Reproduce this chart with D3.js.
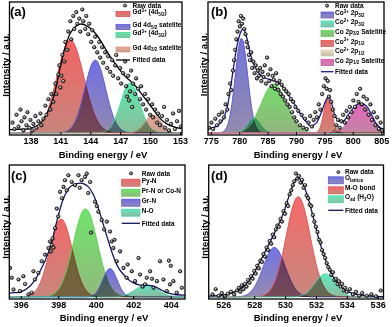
<!DOCTYPE html>
<html>
<head>
<meta charset="utf-8">
<script src="https://cdn.jsdelivr.net/npm/d3@7"></script>
<style>
  body { margin: 0; background: #fff; }
  svg text { font-family: "Liberation Sans", Arial, sans-serif; font-weight: bold; fill: #000; }
</style>
</head>
<body>
<svg id="fig" width="392" height="327"></svg>
<script>
// ---------- (a) Gd 4d ----------
const domainA = [135.9, 153.2];
const ticksA = [138, 141, 144, 147, 150, 153];
const namesA = ["Gd^{3+} (4d_{5/2})", "Gd 4d_{5/2} satelite", "Gd^{3+} (4d_{3/2})", "Gd 4d_{3/2} satelite"];
const centersA = [142.0, 144.5, 148.0, 150.3];
const heightsA = [71.5, 56, 38.5, 14];
const sigmasA = [1.35, 1.05, 0.95, 0.8];
const fitA = [[135.9,2.6],[136.46,2.8],[137.97,3.6],[138.98,7.4],[139.99,20.3],[140.5,33],[141.0,51],[141.5,66.4],
  [142.0,76.7],[142.5,81.8],[143.0,83.8],[143.5,83],[144.0,80.5],[144.5,76.7],[145.0,71.5],[145.5,65],[146.0,58.7],
  [146.6,52.3],[147.1,47.2],[147.6,42.8],[148.1,39.5],[148.6,35.6],[149.1,30.5],[149.6,25.4],[150.1,20.3],[150.6,15.1],
  [151.1,10.5],[151.6,7.4],[152.1,5.4],[153.1,3.3]];
const rawA = [[136.2,8],[136.4,3],[136.6,14],[136.8,5],[137.0,18],[137.1,9],[137.3,2],[137.4,12],[137.6,6],[137.7,16],
  [137.9,4],[138.0,10],[138.2,2],[138.3,7],[138.5,13],[138.6,4],[138.8,9],[139.0,15],[139.1,6],[139.3,11],[139.5,21],
  [139.6,14],[139.8,26],[140.0,18],[140.1,30],[140.3,24],[140.5,38],[140.6,30],[140.8,45],[140.9,52],[141.0,35],[141.1,44],
  [141.2,60],[141.3,40],[141.4,55],[141.5,70],[141.7,64],[141.8,78],[142.0,86],[142.1,72],[142.3,90],[142.4,80],[142.6,93],
  [142.7,84],[142.9,88],[143.0,78],[143.2,95],[143.3,86],[143.5,80],[143.6,90],[143.8,76],[143.9,84],[144.1,70],[144.2,79],
  [144.4,66],[144.5,74],[144.7,62],[144.9,70],[145.0,58],[145.2,66],[145.3,54],[145.5,62],[145.7,50],[145.8,59],[146.0,47],
  [146.2,56],[146.3,44],[146.5,52],[146.6,60],[146.8,42],[147.0,50],[147.1,38],[147.3,46],[147.5,55],[147.6,36],[147.7,28],
  [147.8,44],[147.9,25],[148.0,32],[148.1,48],[148.2,20],[148.3,38],[148.5,30],[148.6,42],[148.8,34],[149.0,26],[149.1,36],
  [149.3,22],[149.5,30],[149.6,18],[149.8,26],[150.0,14],[150.2,22],[150.3,12],[150.5,18],[150.7,8],[150.8,15],[151.0,6],
  [151.2,13],[151.4,20],[151.5,4],[151.7,10],[151.9,2],[152.1,7],[152.3,15],[152.5,3],[152.7,9],[152.9,17],[153.1,5]];

// ---------- (b) Co 2p ----------
const domainB = [774.5, 805.5];
const ticksB = [775, 780, 785, 790, 795, 800, 805];
const namesB = ["Co^{3+} 2p_{3/2}", "Co^{2+} 2p_{3/2}", "Co 2p_{3/2} Satellite", "Co^{3+} 2p_{1/2}", "Co^{2+} 2p_{1/2}", "Co 2p_{1/2} Satelite"];
const centersB = [780.4, 782.6, 786.1, 795.6, 797.0, 801.4];
const heightsB = [72.8, 11.3, 37.7, 26.7, 4.9, 22.3];
const sigmasB = [1.1, 1.1, 2.2, 0.7, 0.55, 1.7];
const fitB = [[774.5,3.4],[774.7,3.6],[775.9,4.9],[777.1,10],[777.9,20.3],[778.5,35.6],[779.1,53.6],[779.7,69],[780.3,78],
  [780.7,80.5],[781.2,75.4],[781.8,63.8],[782.4,54.8],[782.9,49.7],[783.8,44.6],[784.7,42.1],[785.6,40.8],[786.5,39.5],
  [787.4,36.9],[788.2,31.8],[789.1,26.7],[790.0,20.3],[790.9,13.8],[791.8,8.7],[792.6,5.4],[793.5,7.4],[794.4,15.1],
  [795.3,25.4],[795.7,27.9],[796.2,24.1],[796.8,13.8],[797.4,10],[798.2,8.7],[799.4,15.1],[800.6,21.5],[801.5,22.8],
  [802.4,20.8],[803.2,15.1],[804.1,7.4],[805.0,3.6],[805.5,2.8]];
const rawB = [[774.7,4],[775.1,8],[775.4,3],[775.8,11],[776.1,6],[776.4,14],[776.7,9],[777.0,16],[777.3,12],[777.6,22],
  [777.9,18],[778.1,30],[778.4,38],[778.6,33],[778.9,48],[779.1,56],[779.3,64],[779.5,72],[779.7,78],[779.9,86],[780.1,82],
  [780.3,90],[780.5,84],[780.7,88],[780.9,80],[781.1,76],[781.3,70],[781.5,66],[781.7,60],[781.9,56],[782.1,62],[782.3,50],
  [782.5,55],[782.7,46],[782.9,52],[783.1,42],[783.3,48],[783.5,44],[783.7,50],[783.9,40],[784.1,47],[784.3,43],[784.5,52],
  [784.7,38],[784.9,58],[785.1,45],[785.3,40],[785.5,49],[785.7,36],[785.9,44],[786.1,41],[786.3,34],[786.5,46],[786.7,38],
  [786.9,33],[787.1,40],[787.3,30],[787.5,37],[787.7,28],[787.9,34],[788.1,25],[788.3,32],[788.5,22],[788.7,30],[788.9,20],
  [789.1,26],[789.3,16],[789.5,24],[789.7,12],[789.9,20],[790.1,9],[790.4,17],[790.7,6],[791.0,14],[791.3,4],[791.6,11],
  [791.9,3],[792.2,8],[792.5,13],[792.8,5],[793.1,10],[793.4,16],[793.7,12],[794.0,22],[794.3,18],[794.6,30],[794.9,36],
  [795.2,42],[795.4,34],[795.6,40],[795.8,28],[796.0,33],[796.2,24],[796.5,18],[796.8,13],[797.1,6],[797.4,10],[797.7,4],
  [798.0,9],[798.3,14],[798.6,8],[798.9,17],[799.2,12],[799.5,20],[799.8,16],[800.1,25],[800.4,20],[800.7,30],[801.0,24],
  [801.3,34],[801.6,22],[801.9,28],[802.2,18],[802.5,26],[802.8,14],[803.1,22],[803.4,10],[803.7,16],[804.0,6],[804.3,12],
  [804.6,3],[804.9,8],[805.2,2]];

// ---------- (c) N 1s ----------
const domainC = [395.39, 404.76];
const ticksC = [396, 398, 400, 402, 404];
const namesC = ["Py-N", "Pr-N or Co-N", "Gr-N", "N-O"];
const centersC = [398.15, 399.45, 400.76, 402.7];
const heightsC = [60, 67.7, 21.9, 9.2];
const sigmasC = [0.6, 0.65, 0.38, 0.6];
const fitC = [[395.39,3.0],[395.61,3.3],[396.0,3.8],[396.5,8.4],[397.03,19.8],[397.56,37.6],[397.92,58],[398.28,75.8],
  [398.63,84.7],[398.99,87.3],[399.34,87.3],[399.61,84.7],[399.88,78.4],[400.14,68.2],[400.41,55.5],[400.68,42.7],
  [400.94,31.3],[401.21,22.4],[401.48,17.3],[401.74,13.5],[402.01,10.9],[402.36,9.2],[402.72,9.2],[403.08,8.4],
  [403.43,5.9],[403.79,3.3],[404.14,2.1],[404.59,1.5],[404.76,1.4]];
const rawC = [[395.43,22.4],[395.52,14.8],[395.61,5.8],[395.88,13.5],[395.96,4.5],[396.14,16],[396.23,10],[396.41,2],
  [396.59,3.3],[396.68,19.8],[396.76,13.5],[396.94,18.5],[397.12,27.5],[397.3,32.6],[397.48,37.6],[397.56,42.7],[397.6,35],
  [397.65,40],[397.7,45],[397.75,38],[397.83,52.9],[397.92,68],[398.0,62],[398.1,80.9],[398.2,76],[398.28,84.7],[398.36,89.8],
  [398.45,82],[398.54,93.6],[398.72,88.5],[398.9,86],[399.08,93.6],[399.15,84],[399.25,89.8],[399.43,92.4],[399.52,94.9],
  [399.6,80],[399.7,88.5],[399.75,49.6],[399.96,73.3],[400.05,70],[400.14,65.6],[400.32,59.3],[400.45,52],[400.59,58],
  [400.76,50.4],[400.85,42.7],[400.94,37.6],[401.0,44],[401.12,27.5],[401.3,35.1],[401.48,22.4],[401.65,14.8],[401.7,25],
  [401.92,19.8],[402.1,12.2],[402.28,30],[402.36,17.3],[402.5,8],[402.63,9.7],[402.72,14.8],[402.9,19.8],[403.0,14],
  [403.08,7.1],[403.26,12.2],[403.43,27.5],[403.61,13.5],[403.79,4.5],[403.9,28],[403.96,9.7],[404.0,24],[404.14,12.2],
  [404.32,3.3],[404.5,19.8],[404.59,7.1]];

// ---------- (d) O 1s ----------
const domainD = [525.05, 536.38];
const ticksD = [526, 528, 530, 532, 534, 536];
const namesD = ["O_{lattice}", "M-O bond", "O_{ad} (H_{2}O)"];
const centersD = [529.3, 530.85, 532.6];
const heightsD = [38.2, 77.1, 17.8];
const sigmasD = [0.72, 0.78, 0.65];
const fitD = [[525.05,0.7],[525.2,0.8],[525.96,1.5],[526.6,3.3],[527.25,7.6],[527.79,14.7],[528.22,23.7],[528.66,33.8],
  [529.09,44],[529.52,54.2],[529.89,64.4],[530.17,74.6],[530.43,83.5],[530.64,89.8],[530.82,92.4],[531.03,89.8],
  [531.36,80.9],[531.68,68.2],[532.0,52.9],[532.33,38.9],[532.65,27.5],[532.98,18.5],[533.3,12.2],[533.62,7.6],
  [534.06,4.1],[534.6,2.1],[535.46,0.8],[536.2,0.3],[536.38,0.3]];
const rawD = [[525.3,2],[525.5,6],[525.7,1],[525.9,3],[526.1,0.5],[526.3,2.5],[526.5,4],[526.7,2],[526.9,5],[527.0,7],
  [527.1,4],[527.2,9],[527.3,6],[527.4,10],[527.5,8],[527.6,13],[527.7,11],[527.8,16],[527.9,14],[528.0,20],[528.1,18],
  [528.2,24],[528.3,22],[528.4,28],[528.5,27],[528.6,33],[528.7,31],[528.8,38],[528.9,36],[529.0,43],[529.1,41],[529.2,48],
  [529.3,46],[529.4,52],[529.5,55],[529.6,54],[529.7,60],[529.8,58],[529.9,66],[530.0,64],[530.1,72],[530.2,70],[530.3,79],
  [530.4,82],[530.5,86],[530.6,89],[530.7,95],[530.8,91],[530.9,93],[531.0,88],[531.1,90],[531.2,84],[531.3,86],[531.4,78],
  [531.5,76],[531.6,71],[531.7,70],[531.8,63],[531.9,58],[532.0,54],[532.1,50],[532.2,44],[532.3,42],[532.4,36],[532.5,33],
  [532.6,30],[532.7,26],[532.8,23],[532.9,21],[533.0,17],[533.1,19],[533.2,13],[533.3,14],[533.4,10],[533.5,12],[533.6,8],
  [533.7,10],[533.8,5],[533.9,7],[534.0,4],[534.2,6],[534.4,2],[534.6,4],[534.8,1],[535.0,3],[535.3,1],[535.6,2],
  [535.9,0.5],[536.2,5]];

// colours
const colorsA = ["#f04848", "#5656e0", "#3fe8a0", "#ea9a84"];
const colorsB = ["#5a5ad8", "#44e2b8", "#58d650", "#f04a4a", "#e6dcbc", "#e04ab4"];
const colorsC = ["#f04e4e", "#56e050", "#5454e0", "#44e2b4"];
const colorsD = ["#5a5ae0", "#f25050", "#44e8b4"];

const panels = [
  { id: "a", left: 9.5, right: 182, top: 2, bottom: 135, zero: 133, full: 3, domain: domainA, ticks: ticksA,
    names: namesA, centers: centersA, heights: heightsA, sigmas: sigmasA, colors: colorsA, fit: fitA, raw: rawA,
    fitColor: "#000", tickPad: 3, titleY: 157.5, titleX: 103, ylabX: 9, ylabY: 65, tagX: 10, tagY: 16,
    leg: { sym: [125, 5.5], rows: [14, 27, 35, 49.5], fitRow: 60, sw: [116, 130], swH: 5, textX: 132.5 } },
  { id: "b", left: 208, right: 384, top: 2, bottom: 135, zero: 133, full: 3, domain: domainB, ticks: ticksB,
    names: namesB, centers: centersB, heights: heightsB, sigmas: sigmasB, colors: colorsB, fit: fitB, raw: rawB,
    fitColor: "#1c1c84", tickPad: 3, titleY: 157.5, titleX: 298, ylabX: 207, ylabY: 64.5, tagX: 211, tagY: 16,
    leg: { sym: [327, 5.7], rows: [15, 24, 33.5, 43.5, 53, 62.5], fitRow: 71.7, sw: [321, 333.5], swH: 6, textX: 335 } },
  { id: "c", left: 9.3, right: 185, top: 165, bottom: 299, zero: 297, full: 167, domain: domainC, ticks: ticksC,
    names: namesC, centers: centersC, heights: heightsC, sigmas: sigmasC, colors: colorsC, fit: fitC, raw: rawC,
    fitColor: "#14145e", tickPad: 2.5, titleY: 320.5, titleX: 104, ylabX: 9, ylabY: 227, tagX: 11, tagY: 180,
    leg: { sym: [131, 173.3], rows: [182.7, 192.7, 202.7, 212.7], fitRow: 223.3, sw: [121.7, 140], swH: 7, textX: 141.7 } },
  { id: "d", left: 208.7, right: 383.5, top: 165, bottom: 299, zero: 297, full: 167, domain: domainD, ticks: ticksD,
    names: namesD, centers: centersD, heights: heightsD, sigmas: sigmasD, colors: colorsD, fit: fitD, raw: rawD,
    fitColor: "#14144e", tickPad: 2.5, titleY: 320.5, titleX: 298, ylabX: 207.5, ylabY: 227, tagX: 211, tagY: 180,
    leg: { sym: [338.3, 172], rows: [180.3, 190.3, 199.3], fitRow: 210.3, sw: [328.3, 343.3], swH: 7, textX: 345 } }
];

const svg = d3.select("#fig");
const defs = svg.append("defs");

// shaded ball used for the raw data markers
const ball = defs.append("radialGradient").attr("id", "ball").attr("fx", 0.35).attr("fy", 0.35);
ball.append("stop").attr("offset", "0%").attr("stop-color", "#fff");
ball.append("stop").attr("offset", "45%").attr("stop-color", "#888");
ball.append("stop").attr("offset", "100%").attr("stop-color", "#000");

function gauss(e, c, h, s) {
  return h * Math.exp(-((e - c) ** 2) / (2 * s * s));
}

// "Gd^{3+} (4d_{5/2})" -> tspans with raised / lowered small parts
function richText(textSel, str, size) {
  const parts = str.match(/\^\{[^}]*\}|_\{[^}]*\}|[^^_]+/g);
  let shift = 0;
  parts.forEach(part => {
    let target = 0, fs = size, txt = part;
    if (part[0] === "^") { target = -size * 0.38; fs = size * 0.7; txt = part.slice(2, -1); }
    if (part[0] === "_") { target = size * 0.25; fs = size * 0.7; txt = part.slice(2, -1); }
    textSel.append("tspan").attr("dy", target - shift).attr("font-size", fs).text(txt);
    shift = target;
  });
}

function drawPanel(p) {
  const g = svg.append("g").attr("class", "panel-" + p.id);
  const x = d3.scaleLinear().domain(p.domain).range([p.left, p.right]);
  const y = d3.scaleLinear().domain([0, 100]).range([p.zero, p.full]);

  defs.append("clipPath").attr("id", "clip-" + p.id)
    .append("rect")
    .attr("x", p.left).attr("y", p.top)
    .attr("width", p.right - p.left).attr("height", p.bottom - p.top);

  // gradients for the component fills
  p.colors.forEach((c, i) => {
    const grad = defs.append("linearGradient")
      .attr("id", `grad-${p.id}-${i}`)
      .attr("x1", 0).attr("y1", 0).attr("x2", 0).attr("y2", 1);
    grad.append("stop").attr("offset", "0%").attr("stop-color", c);
    grad.append("stop").attr("offset", "100%").attr("stop-color", d3.interpolateRgb(c, "#9c8a78")(0.6));
  });

  const plot = g.append("g").attr("clip-path", `url(#clip-${p.id})`);
  const step = (p.domain[1] - p.domain[0]) / 300;
  const energies = d3.range(p.domain[0], p.domain[1] + step / 2, step);

  const area = d3.area().x(d => x(d[0])).y0(y(0)).y1(d => y(d[1]));
  const line = d3.line().x(d => x(d[0])).y(d => y(d[1]));

  p.centers.forEach((c, i) => {
    const pts = energies.map(e => [e, gauss(e, c, p.heights[i], p.sigmas[i])]);
    plot.append("path")
      .attr("d", area(pts))
      .attr("fill", `url(#grad-${p.id}-${i})`)
      .attr("fill-opacity", 0.85)
      .style("mix-blend-mode", "multiply");
    plot.append("path")
      .attr("d", line(pts))
      .attr("fill", "none")
      .attr("stroke", d3.color(p.colors[i]).darker(0.2))
      .attr("stroke-width", 0.9);
  });

  plot.append("path")
    .attr("d", line.curve(d3.curveCatmullRom.alpha(0.5))(p.fit))
    .attr("fill", "none")
    .attr("stroke", p.fitColor)
    .attr("stroke-width", 1.3);

  plot.append("g").selectAll("circle")
    .data(p.raw)
    .join("circle")
    .attr("cx", d => x(d[0]))
    .attr("cy", d => y(d[1]))
    .attr("r", 1.8)
    .attr("fill", "url(#ball)")
    .attr("stroke", "#000")
    .attr("stroke-width", 0.5);

  // frame
  g.append("rect")
    .attr("x", p.left).attr("y", p.top)
    .attr("width", p.right - p.left).attr("height", p.bottom - p.top)
    .attr("fill", "none").attr("stroke", "#000").attr("stroke-width", 1.3);

  const axis = g.append("g")
    .attr("transform", `translate(0,${p.bottom})`)
    .call(d3.axisBottom(x).tickValues(p.ticks).tickSizeInner(-3).tickSizeOuter(0).tickPadding(p.tickPad));
  axis.select(".domain").remove();
  axis.selectAll("line").attr("stroke-width", 1);
  axis.selectAll("text")
    .attr("font-size", 9)
    .style("font-family", '"Liberation Sans", Arial, sans-serif')
    .style("font-weight", "bold");

  g.append("text")
    .attr("x", p.titleX).attr("y", p.titleY)
    .attr("text-anchor", "middle")
    .attr("font-size", 9.5)
    .text("Binding energy / eV");

  g.append("text")
    .attr("transform", `translate(${p.ylabX},${p.ylabY}) rotate(-90)`)
    .attr("text-anchor", "middle")
    .attr("font-size", 9.5)
    .text("Intensity / a.u.");

  g.append("text")
    .attr("x", p.tagX).attr("y", p.tagY)
    .attr("font-size", 13)
    .text(`(${p.id})`);

  // legend
  const L = p.leg;
  const legend = g.append("g");
  legend.append("circle")
    .attr("cx", L.sym[0]).attr("cy", L.sym[1]).attr("r", 1.6)
    .attr("fill", "url(#ball)").attr("stroke", "#000").attr("stroke-width", 0.5);
  legend.append("text")
    .attr("x", L.textX).attr("y", L.sym[1]).attr("dy", "0.35em")
    .attr("font-size", 6.5)
    .text("Raw data");

  p.names.forEach((name, i) => {
    const yy = L.rows[i];
    legend.append("rect")
      .attr("x", L.sw[0]).attr("y", yy - L.swH / 2)
      .attr("width", L.sw[1] - L.sw[0]).attr("height", L.swH)
      .attr("fill", `url(#grad-${p.id}-${i})`)
      .attr("fill-opacity", 0.85)
      .attr("stroke", d3.color(p.colors[i]).darker(0.2))
      .attr("stroke-width", 0.7);
    const t = legend.append("text")
      .attr("x", L.textX).attr("y", yy).attr("dy", "0.35em")
      .attr("font-size", 6.5);
    richText(t, name, 6.5);
  });

  legend.append("line")
    .attr("x1", L.sw[0]).attr("x2", L.sw[1])
    .attr("y1", L.fitRow).attr("y2", L.fitRow)
    .attr("stroke", p.fitColor).attr("stroke-width", 1.3);
  legend.append("text")
    .attr("x", L.textX).attr("y", L.fitRow).attr("dy", "0.35em")
    .attr("font-size", 6.5)
    .text("Fitted data");
}

panels.forEach(drawPanel);
</script>
</body>
</html>
